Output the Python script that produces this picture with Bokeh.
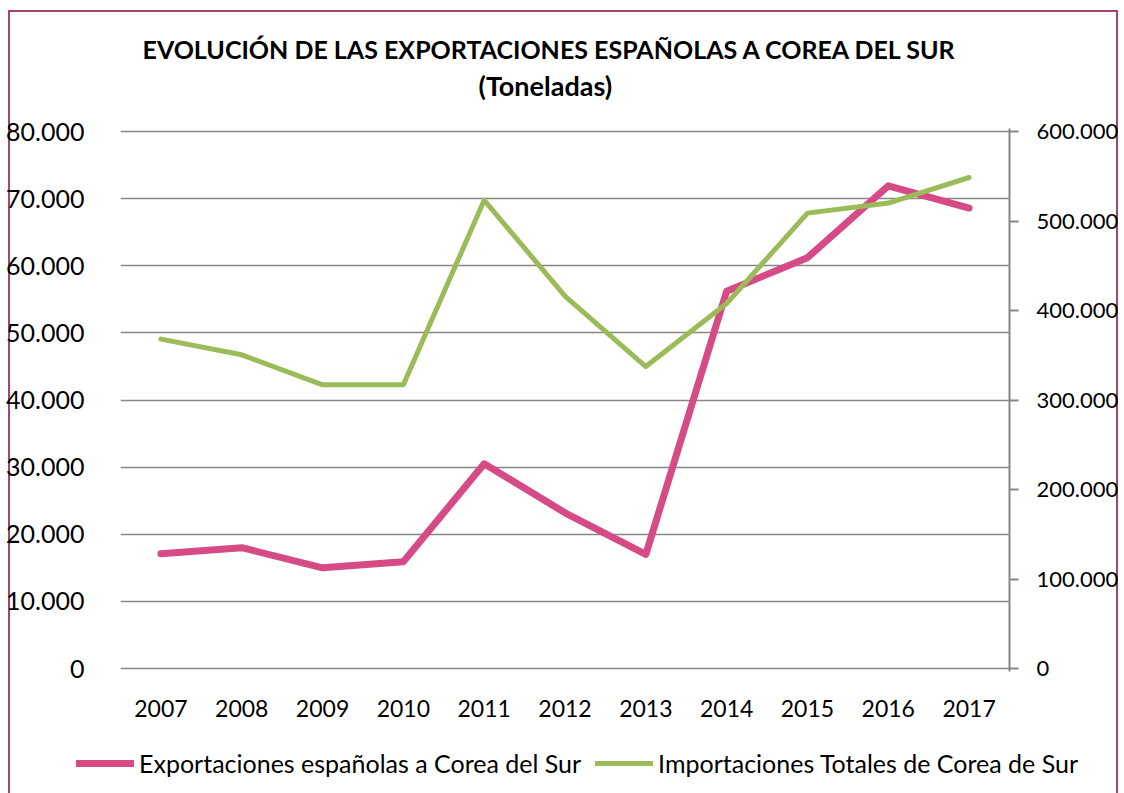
from bokeh.plotting import figure
from bokeh.models import (FactorRange, Range1d, LinearAxis, FixedTicker, Legend,
                          LegendItem, Title)
from bokeh.embed import file_html
from bokeh.resources import INLINE

years = ["2007", "2008", "2009", "2010", "2011", "2012", "2013", "2014", "2015", "2016", "2017"]
exports = [17100, 18000, 15000, 15900, 30500, 23200, 17000, 56200, 61200, 71900, 68600]
imports = [368000, 350500, 317000, 317000, 523300, 416000, 337400, 407800, 508800, 520000, 548600]

left_ticks = [0, 10000, 20000, 30000, 40000, 50000, 60000, 70000, 80000]
left_labels = ["0", "10.000", "20.000", "30.000", "40.000", "50.000", "60.000", "70.000", "80.000"]
right_ticks = [0, 100000, 200000, 300000, 400000, 500000, 600000]
right_labels = ["0", "100.000", "200.000", "300.000", "400.000", "500.000", "600.000"]

title_1 = "EVOLUCIÓN DE LAS EXPORTACIONES ESPAÑOLAS A COREA DEL SUR"
title_2 = "(Toneladas)"
name_exp = "Exportaciones españolas a Corea del Sur"
name_imp = "Importaciones Totales de Corea de Sur"

FONT = "Lato"
GRAY = "#868686"
PINK = "#D64B85"
GREEN = "#9BBB59"
BORDER = "#A5456F"
FW, FH, PAD = 889, 537, 3
lpad = 80000 / FH * PAD
rpad = 600000 / FH * PAD
g = f"linear-gradient({BORDER}, {BORDER})"

p = figure(frame_width=FW, frame_height=FH + 2 * PAD,
           x_range=FactorRange(*years, range_padding=0),
           y_range=Range1d(-lpad, 80000 + lpad), output_backend="svg", toolbar_location=None,
           min_border_left=120, min_border_right=115, min_border_top=128,
           min_border_bottom=60)
p.extra_y_ranges = {"right": Range1d(-rpad, 600000 + rpad)}
p.outline_line_color = None
p.border_fill_color = None
p.background_fill_color = None
p.styles = {
    "background-color": "white",
    "background-image": f"{g}, {g}, {g}",
    "background-size": "2px 800px, 1110px 2px, 2px 800px",
    "background-position": "8px 10px, 8px 10px, 1116px 10px",
    "background-repeat": "no-repeat",
}

p.line(years, exports, line_color=PINK, line_width=7, line_cap="round", line_join="round")
p.line(years, imports, line_color=GREEN, line_width=5, line_cap="round", line_join="round",
       y_range_name="right")

# left axis
ya = p.yaxis[0]
ya.ticker = FixedTicker(ticks=left_ticks)
ya.major_label_overrides = {t: l for t, l in zip(left_ticks, left_labels)}
ya.axis_line_color = None
ya.major_tick_line_color = None
ya.minor_tick_line_color = None
ya.major_label_standoff = 30
ya.major_label_text_font = FONT
ya.major_label_text_font_size = "25px"
ya.major_label_text_color = "black"

# x axis
xa = p.xaxis[0]
xa.axis_line_color = None
xa.major_tick_line_color = None
xa.major_label_standoff = 22
xa.major_label_text_font = FONT
xa.major_label_text_font_size = "23px"
xa.major_label_text_color = "black"

p.xgrid.grid_line_color = None
p.ygrid.grid_line_color = GRAY
p.ygrid.grid_line_width = 1.5
p.ygrid.ticker = FixedTicker(ticks=left_ticks)

# right axis
ra = LinearAxis(y_range_name="right", ticker=FixedTicker(ticks=right_ticks))
ra.major_label_overrides = {t: l for t, l in zip(right_ticks, right_labels)}
ra.axis_line_color = GRAY
ra.axis_line_width = 2
ra.major_tick_line_color = GRAY
ra.major_tick_line_width = 2
ra.major_tick_out = 9
ra.major_tick_in = 0
ra.minor_tick_line_color = None
ra.major_label_standoff = 18
ra.major_label_text_font = FONT
ra.major_label_text_font_size = "22px"
ra.major_label_text_color = "black"
p.add_layout(ra, "right")

# titles (first added sits next to the frame)
t2 = Title(text=title_2, align="left", offset=358, vertical_align="bottom",
           text_font=FONT, text_font_size="27px", text_font_style="bold",
           text_color="black", standoff=54)
t1 = Title(text=title_1, align="left", offset=22, vertical_align="bottom",
           text_font=FONT, text_font_size="25px", text_font_style="bold",
           text_color="black", standoff=-48)
p.add_layout(t2, "above")
p.add_layout(t1, "above")

# legend strip below the chart (its own root, so its frame is the full width)
LH = 793 - 731
p2 = figure(width=1124, height=LH, x_range=FactorRange(*years, range_padding=0),
            y_range=Range1d(0, 1), output_backend="svg", toolbar_location=None,
            min_border_left=0, min_border_right=0, min_border_top=0, min_border_bottom=0)
p2.axis.visible = False
p2.grid.visible = False
p2.outline_line_color = None
p2.border_fill_color = None
p2.background_fill_color = None
p2.styles = {
    "background-color": "white",
    "background-image": f"{g}, {g}",
    "background-size": "2px 200px, 2px 200px",
    "background-position": "8px 0px, 1116px 0px",
    "background-repeat": "no-repeat",
}
# series drawn far outside this strip's range: only their legend samples show
l_exp = p2.line(years, exports, line_color=PINK, line_width=7, line_cap="round")
l_imp = p2.line(years, imports, line_color=GREEN, line_width=5, line_cap="round")

legend = Legend(items=[LegendItem(label=name_exp, renderers=[l_exp]),
                       LegendItem(label=name_imp, renderers=[l_imp])],
                orientation="horizontal", location=(76, 15),
                glyph_width=58, glyph_height=20, label_standoff=5, spacing=14,
                padding=0, margin=0, border_line_color=None, background_fill_alpha=0,
                label_text_font=FONT, label_text_font_size="25px", label_text_color="black")
p2.add_layout(legend, "center")

open("out.html", "w").write(file_html([p, p2], INLINE))
